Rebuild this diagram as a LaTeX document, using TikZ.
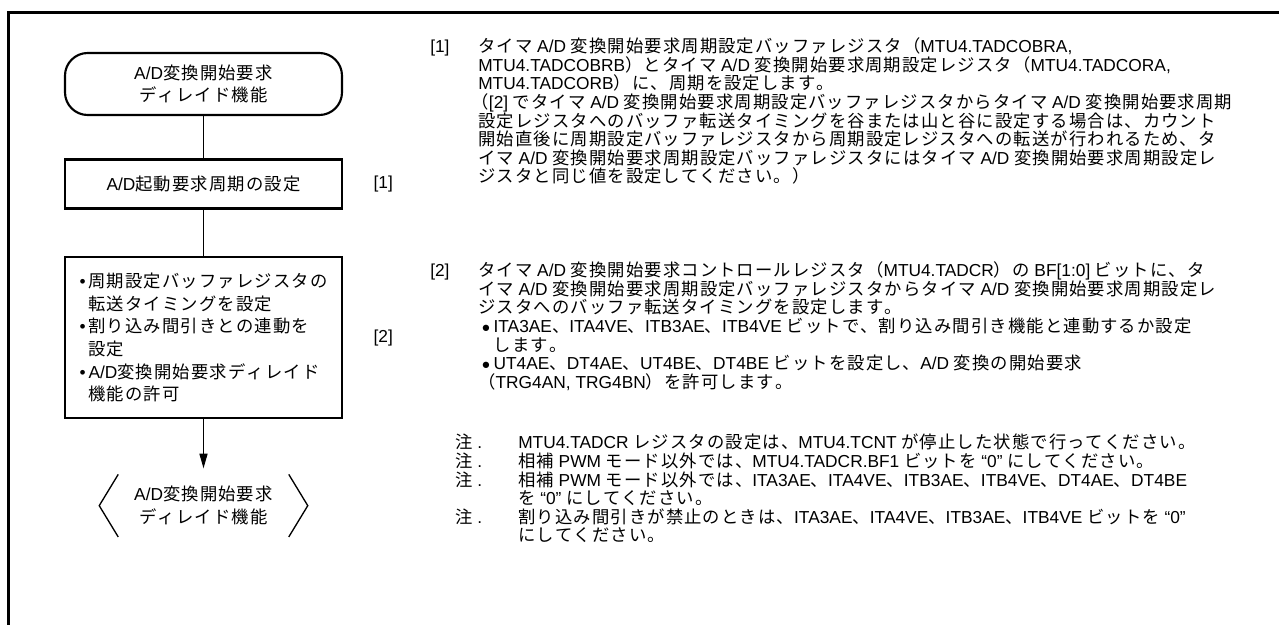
\documentclass[tikz,border=0pt]{standalone}
\usepackage{fontspec}
\setmainfont{Liberation Sans}
\newfontfamily\jpfont{Noto Sans CJK JP}
\usetikzlibrary{arrows.meta,positioning,calc}

% Japanese runs in Noto, everything else in Liberation Sans
\newlength\jlgap \setlength\jlgap{3.5pt}
\newlength\jtrack \setlength\jtrack{0.85pt}
\makeatletter
\newcommand\jpclass[3]{\count@=#1\relax
  \loop\XeTeXcharclass\count@=#3\relax
  \ifnum\count@<#2\relax\advance\count@\@ne\repeat}
\makeatother
\jpclass{"3000}{"303F}{8}
\jpclass{"3040}{"30FF}{7}
\jpclass{"4E00}{"9FFF}{7}
\jpclass{"FF00}{"FFEF}{8}
\jpclass{"2010}{"2027}{0}
\XeTeXcharclass"25CF=0
\XeTeXinterchartoks 0 7 = {\hskip\jlgap\jpfont}
\XeTeXinterchartoks 7 0 = {\rmfamily\hskip\jlgap}
\XeTeXinterchartoks 0 8 = {\jpfont}
\XeTeXinterchartoks 8 0 = {\rmfamily}
\XeTeXinterchartoks 4095 7 = {\jpfont}
\XeTeXinterchartoks 4095 8 = {\jpfont}
\XeTeXinterchartoks 7 4095 = {\rmfamily}
\XeTeXinterchartoks 8 4095 = {\rmfamily}
\XeTeXinterchartoks 7 7 = {\hskip\jtrack}
\XeTeXinterchartoks 7 8 = {\hskip\jtrack}
\XeTeXinterchartoks 8 7 = {\hskip\jtrack}
\XeTeXinterchartoks 8 8 = {\hskip\jtrack}
\XeTeXinterchartokenstate=1

\newcommand\flowfont{\fontsize{13}{17}\selectfont\setlength\jlgap{0pt}}
\newcommand\bodyfont{\fontsize{13}{13.95}\selectfont}
\newcommand\itm{\makebox[6.75pt][l]{•}}
\newcommand\dotitm{\hspace*{38.5pt}\makebox[9pt][l]{\fontsize{11}{11}\selectfont●}}
\newcommand\chu{\makebox[47.25pt][l]{注.}}

\begin{document}
\begin{tikzpicture}[x=0.75pt,y=0.75pt,
  term/.style={draw,line width=1.6pt,rounded corners=17pt,minimum width=207.75pt,minimum height=46.5pt,align=center,font=\flowfont},
  stepbox/.style={draw,line width=2pt,minimum width=207.75pt,minimum height=36.75pt,align=center,font=\flowfont},
  endbox/.style={minimum width=127.5pt,minimum height=46.5pt,align=center,font=\flowfont},
  tag/.style={inner sep=0pt,font=\bodyfont},
  para/.style={anchor=north west,inner sep=0pt,align=left,font=\bodyfont},
  link/.style={line width=1pt},
  arr/.style={-{Triangle[length=11pt,width=6pt]},line width=1pt,shorten >=4.5pt},
  bracket/.style={line width=1pt}]
\useasboundingbox (0,0) rectangle (1279,-625);
\draw[line width=2.25pt] (8.5,-625) -- (8.5,-12.5) -- (1279,-12.5);

% flow
\node[term] (start) at (203.5,-84) {A/D変換開始要求\\ディレイド機能};
\node[stepbox,below=31.5pt of start] (period) {A/D起動要求周期の設定};
\node[stepbox,below=34.5pt of period,minimum height=120.75pt,align=left] (buffer) {\itm 周期設定バッファレジスタの\\
\hspace*{6.75pt}転送タイミングを設定\\
\itm 割り込み間引きとの連動を\\
\hspace*{6.75pt}設定\\
\itm A/D変換開始要求ディレイド\\
\hspace*{6.75pt}機能の許可};
\node[endbox,below=41.25pt of buffer] (finish) {A/D変換開始要求\\ディレイド機能};
\node[tag,right=22.5pt of period] (tag1) {[1]};
\node[tag,right=22.5pt of buffer] (tag2) {[2]};

\draw[link] (start) -- (period);
\draw[link] (period) -- (buffer);
\draw[arr] (buffer) -- (finish);
\draw[bracket] (finish.north west) -- ($(finish.west)+(-19,0)$) -- (finish.south west);
\draw[bracket] (finish.north east) -- ($(finish.east)+(19,0)$) -- (finish.south east);

% explanations
\node[para] (note1) at (430,-37.5) {\makebox[36pt][l]{[1]}タイマA/D変換開始要求周期設定バッファレジスタ（MTU4.TADCOBRA,\\
\hspace*{36pt}MTU4.TADCOBRB）とタイマA/D変換開始要求周期設定レジスタ（MTU4.TADCORA,\\
\hspace*{36pt}MTU4.TADCORB）に、周期を設定します。\\
\hspace*{31pt}（[2]でタイマA/D変換開始要求周期設定バッファレジスタからタイマA/D変換開始要求周期\\
\hspace*{36pt}設定レジスタへのバッファ転送タイミングを谷または山と谷に設定する場合は、カウント\\
\hspace*{36pt}開始直後に周期設定バッファレジスタから周期設定レジスタへの転送が行われるため、タ\\
\hspace*{36pt}イマA/D変換開始要求周期設定バッファレジスタにはタイマA/D変換開始要求周期設定レ\\
\hspace*{36pt}ジスタと同じ値を設定してください。）};
\node[para] (note2) at (430,-261.5) {\makebox[36pt][l]{[2]}タイマA/D変換開始要求コントロールレジスタ（MTU4.TADCR）のBF[1:0]ビットに、タ\\
\hspace*{36pt}イマA/D変換開始要求周期設定バッファレジスタからタイマA/D変換開始要求周期設定レ\\
\hspace*{36pt}ジスタへのバッファ転送タイミングを設定します。\\
\dotitm ITA3AE、ITA4VE、ITB3AE、ITB4VEビットで、割り込み間引き機能と連動するか設定\\
\hspace*{47.5pt}します。\\
\dotitm UT4AE、DT4AE、UT4BE、DT4BEビットを設定し、A/D変換の開始要求\\
\hspace*{36pt}（TRG4AN, TRG4BN）を許可します。};
\node[para] (notes) at (455,-434) {\chu MTU4.TADCRレジスタの設定は、MTU4.TCNTが停止した状態で行ってください。\\
\chu 相補PWMモード以外では、MTU4.TADCR.BF1ビットを“0”にしてください。\\
\chu 相補PWMモード以外では、ITA3AE、ITA4VE、ITB3AE、ITB4VE、DT4AE、DT4BE\\
\hspace*{47.25pt}を“0”にしてください。\\
\chu 割り込み間引きが禁止のときは、ITA3AE、ITA4VE、ITB3AE、ITB4VEビットを“0”\\
\hspace*{47.25pt}にしてください。};
\end{tikzpicture}
\end{document}
